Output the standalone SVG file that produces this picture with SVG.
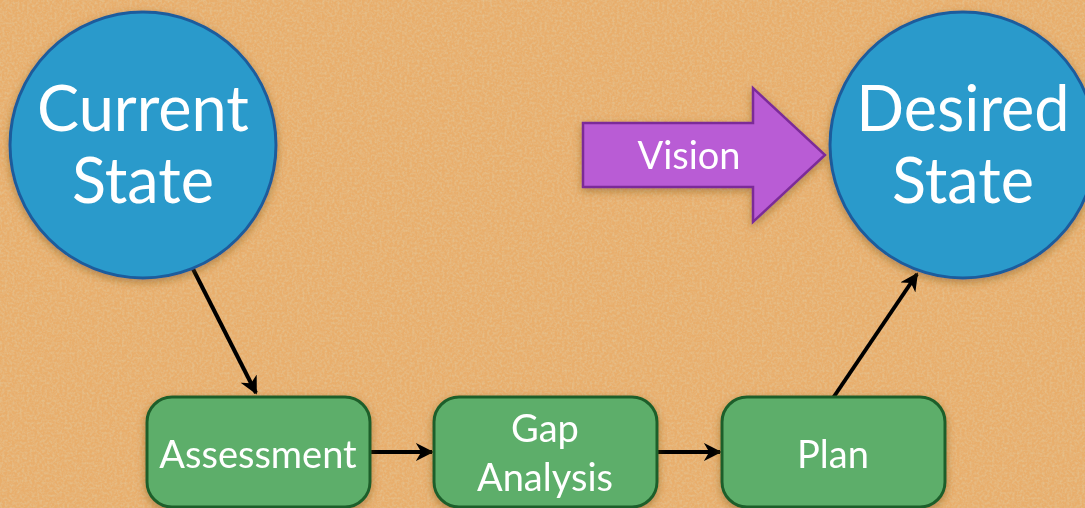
<svg xmlns="http://www.w3.org/2000/svg" width="1085" height="508" viewBox="0 0 1085 508">
<style>
.circ{fill:#2A9ACB;stroke:#1D5C9C;stroke-width:3}
.box{fill:#5DAE6A;stroke:#1F5E2B;stroke-width:3}
.big{font-family:Lato,"Open Sans",sans-serif;font-size:63px;fill:#fff;text-anchor:middle}
.sm{font-family:Lato,"Open Sans",sans-serif;font-size:38px;fill:#fff;text-anchor:middle}
.conn{stroke:#000;stroke-width:4;fill:none;marker-end:url(#ah)}
</style>
<defs>
<marker id="ah" viewBox="0 0 10 10" refX="9" refY="5" markerWidth="4.5" markerHeight="4.5" orient="auto" markerUnits="strokeWidth">
<path d="M0,0 L10,5 L0,10 L3,5 Z" fill="#000"/>
</marker>
<filter id="cork" x="0" y="0" width="100%" height="100%">
<feTurbulence type="fractalNoise" baseFrequency="0.4" numOctaves="2" seed="4" result="n"/>
<feColorMatrix in="n" type="matrix" values="0 0 0 0 0.78  0 0 0 0 0.55  0 0 0 0 0.28  0 0 0 1.6 -0.6" result="spots"/>
<feFlood flood-color="#E8AE6C" result="bg"/>
<feComposite in="spots" in2="bg" operator="over"/>
</filter>
<filter id="sh" x="-20%" y="-20%" width="140%" height="140%">
<feDropShadow dx="0" dy="3" stdDeviation="4" flood-color="#6b4a1e" flood-opacity="0.45"/>
</filter>
</defs>
<rect width="1085" height="508" filter="url(#cork)"/>

<g id="connectors">
<line class="conn" x1="192" y1="267" x2="256" y2="393"/>
<line class="conn" x1="371" y1="452" x2="432" y2="452"/>
<line class="conn" x1="657" y1="452" x2="720" y2="452"/>
<line class="conn" x1="833" y1="398" x2="917" y2="274"/>
</g>

<g id="current-state" filter="url(#sh)">
<circle class="circ" cx="143" cy="145" r="133"/>
<text class="big" x="143" y="131">Current</text>
<text class="big" x="143" y="203">State</text>
</g>

<g id="desired-state" filter="url(#sh)">
<circle class="circ" cx="963" cy="145" r="133"/>
<text class="big" x="963" y="131">Desired</text>
<text class="big" x="963" y="203">State</text>
</g>

<g id="vision" filter="url(#sh)">
<path d="M583,123 L753,123 L753,88 L825,155 L753,222 L753,187 L583,187 Z" fill="#B95BD5" stroke="#7B2C99" stroke-width="2.5" stroke-linejoin="miter"/>
<text class="sm" x="689" y="169">Vision</text>
</g>

<g id="assessment" filter="url(#sh)">
<rect class="box" x="147" y="397" width="223" height="110" rx="25"/>
<text class="sm" x="258" y="468">Assessment</text>
</g>

<g id="gap-analysis" filter="url(#sh)">
<rect class="box" x="434" y="397" width="223" height="110" rx="25"/>
<text class="sm" x="545" y="442">Gap</text>
<text class="sm" x="545" y="491">Analysis</text>
</g>

<g id="plan" filter="url(#sh)">
<rect class="box" x="722" y="397" width="223" height="110" rx="25"/>
<text class="sm" x="833" y="468">Plan</text>
</g>
</svg>
